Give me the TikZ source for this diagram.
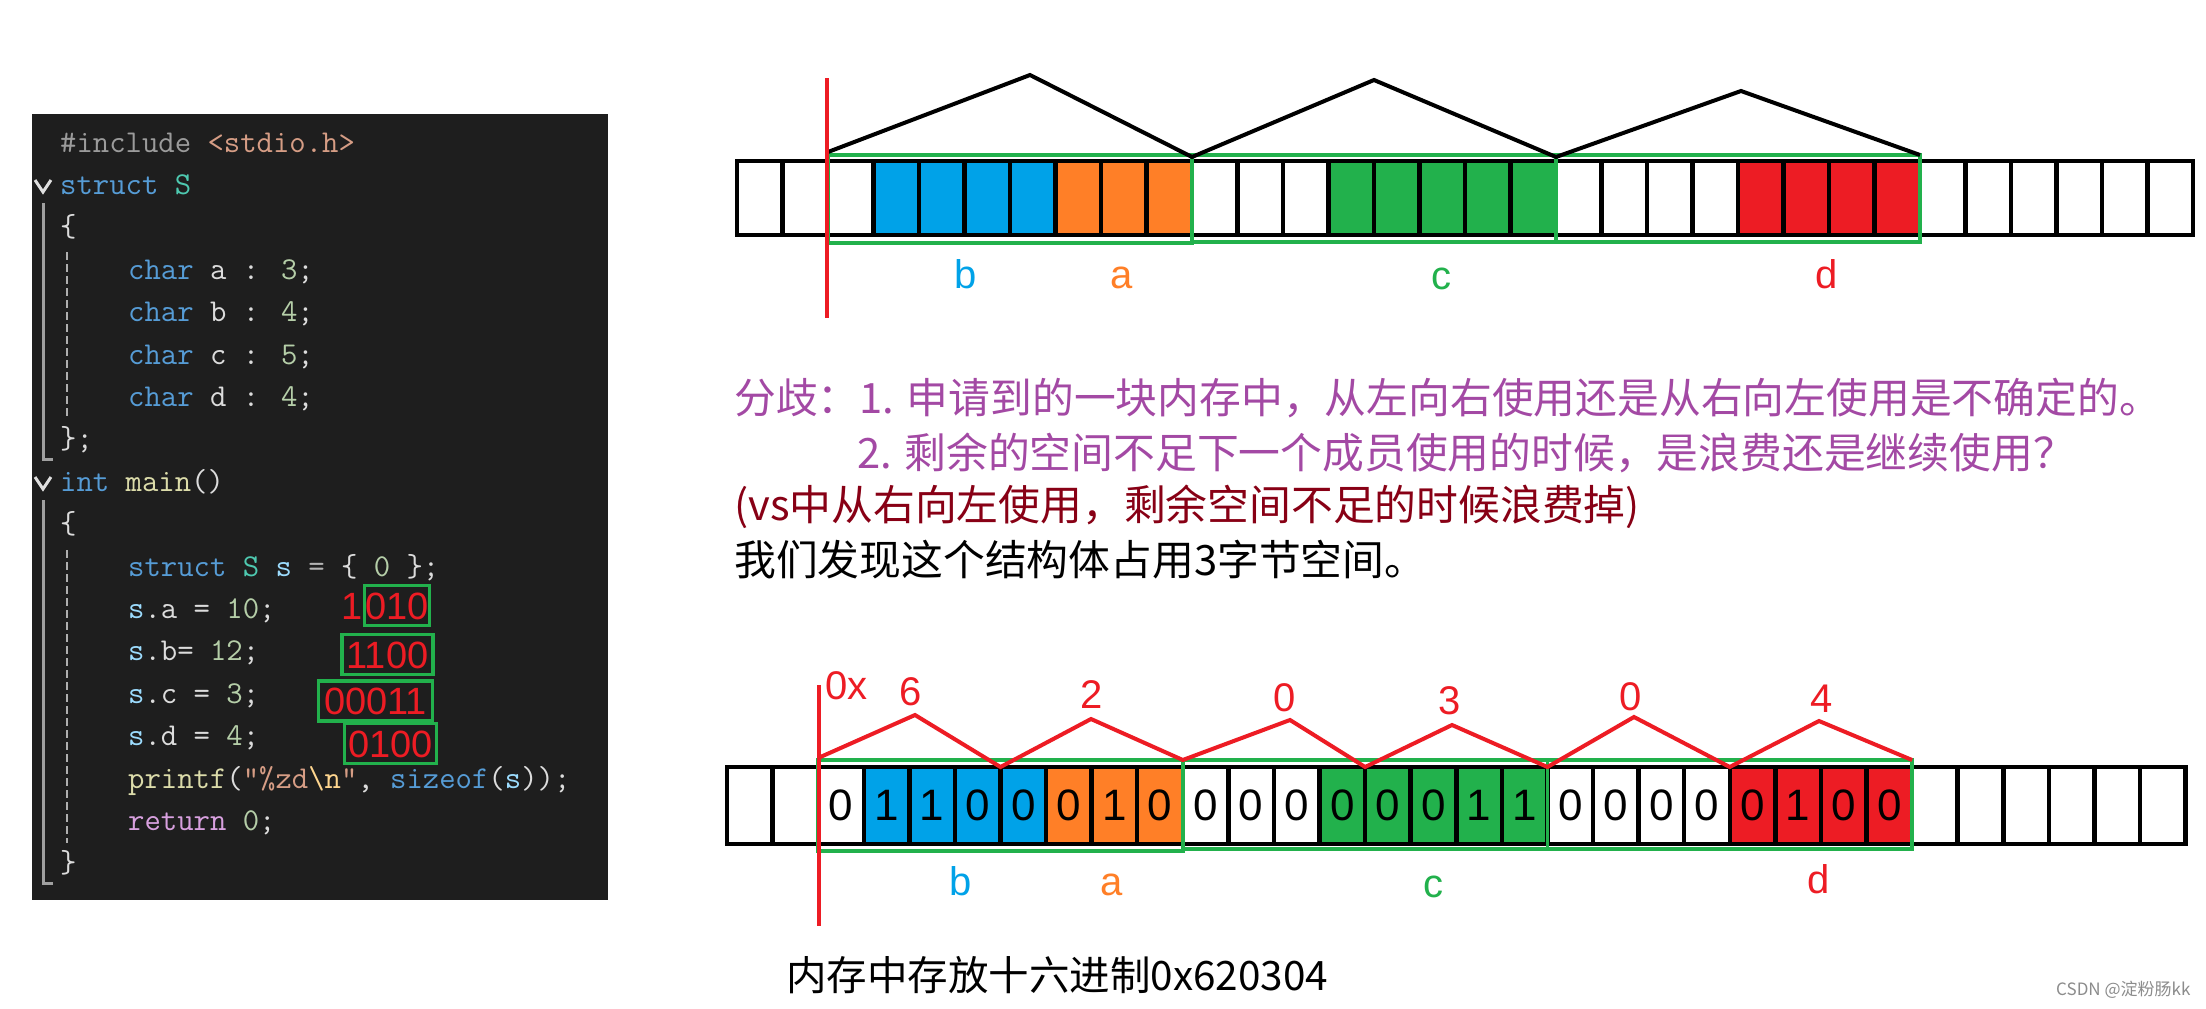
\documentclass[tikz,border=0pt]{standalone}
\usepackage{fontspec}
\setmainfont{Liberation Sans}
\newfontfamily\cjk{Noto Sans CJK SC}
\usetikzlibrary{math,positioning}

% paint colours
\definecolor{pblue}{HTML}{00A2E8}
\definecolor{porange}{HTML}{FF7F27}
\definecolor{pgreen}{HTML}{22B14C}
\definecolor{pred}{HTML}{ED1C24}
\definecolor{ppurple}{HTML}{A349A4}
\definecolor{pdark}{HTML}{880015}
% editor colours
\definecolor{codebg}{HTML}{1E1E1E}
\definecolor{cpu}{HTML}{DCDCDC}
\definecolor{ckw}{HTML}{569CD6}
\definecolor{cty}{HTML}{4EC9B0}
\definecolor{cnu}{HTML}{B5CEA8}
\definecolor{cfn}{HTML}{DCDCAA}
\definecolor{cva}{HTML}{9CDCFE}
\definecolor{cst}{HTML}{D69D85}
\definecolor{cesc}{HTML}{FFD68F}
\definecolor{cpp}{HTML}{9B9B9B}
\definecolor{crt}{HTML}{D8A0DF}
\definecolor{cop}{HTML}{B4B4B4}
\definecolor{cguide}{HTML}{A0A0A0}

\tikzset{
  cell/.style={draw=black, line width=4.5pt, minimum height=74pt, inner sep=0pt, outer sep=0pt,
    font=\fontsize{44}{44}\selectfont},
  gbox/.style={draw=pgreen, line width=3.5pt},
  chev/.style={line width=4pt},
  divide/.style={draw=pred, line width=4pt},
  lbl/.style={anchor=base, inner sep=0pt, font=\fontsize{40}{40}\selectfont},
  hexd/.style={anchor=base, inner sep=0pt, text=pred, font=\fontsize{40}{40}\selectfont},
  code/.style={anchor=base west, inner sep=0pt, text=cpu, font=\ttfamily\fontsize{31.8}{34}\selectfont},
  bin/.style={text=pred, inner ysep=6.5pt, text height=27pt, text depth=0pt,
    font=\fontsize{38}{38}\selectfont},
  note/.style={anchor=west, inner sep=0pt, font=\cjk\fontsize{41.8}{48}\selectfont},
  guide/.style={draw=cguide, line width=3pt},
}

\begin{document}
\begin{tikzpicture}[x=1pt, y=-1pt]
  \fill[white] (0,0) rectangle (2206,1009);
  \useasboundingbox (0,0) rectangle (2206,1009);
  \tikzmath{
    % left edge and cell width of the two bars
    \ta = 737; \tw = 45.5;
    \ma = 727; \mw = 45.58;
  }

  % code panel
  \fill[codebg] (32,114) rectangle (608,900);
  \draw[guide, draw=cpu!90] (35,180) -- (43,192) -- (51,180);
  \draw[guide, draw=cpu!90] (35,477) -- (43,489) -- (51,477);
  \draw[guide] (43,203) -- (43,459) -- (53,459);
  \draw[guide] (43,500) -- (43,883) -- (53,883);
  \draw[guide, draw=cpp!80, line width=2.5pt, dash pattern=on 8pt off 4pt] (67,252) -- (67,417);
  \draw[guide, draw=cpp!80, line width=2.5pt, dash pattern=on 8pt off 4pt] (67,550) -- (67,843);

  \node[code] (l0) at (60,152) {\textcolor{cpp}{\#include} \textcolor{cst}{<stdio.h>}};
  \node[code] (l1) at (60,194.4) {\textcolor{ckw}{struct} \textcolor{cty}{S}};
  \node[code] (l2) at (60,236.8) {\{};
  \node[code] (l3) at (128,279.2) {\textcolor{ckw}{char} a : \textcolor{cnu}{3};};
  \node[code] (l4) at (128,321.6) {\textcolor{ckw}{char} b : \textcolor{cnu}{4};};
  \node[code] (l5) at (128,364) {\textcolor{ckw}{char} c : \textcolor{cnu}{5};};
  \node[code] (l6) at (128,406.4) {\textcolor{ckw}{char} d : \textcolor{cnu}{4};};
  \node[code] (l7) at (60,448.8) {\};};
  \node[code] (l8) at (60,491.2) {\textcolor{ckw}{int} \textcolor{cfn}{main}()};
  \node[code] (l9) at (60,533.6) {\{};
  \node[code] (l10) at (128,576) {\textcolor{ckw}{struct} \textcolor{cty}{S} \textcolor{cva}{s} \textcolor{cop}{=} \{ \textcolor{cnu}{0} \};};
  \node[code] (l11) at (128,618.4) {\textcolor{cva}{s}.a = \textcolor{cnu}{10};};
  \node[code] (l12) at (128,660.8) {\textcolor{cva}{s}.b= \textcolor{cnu}{12};};
  \node[code] (l13) at (128,703.2) {\textcolor{cva}{s}.c = \textcolor{cnu}{3};};
  \node[code] (l14) at (128,745.6) {\textcolor{cva}{s}.d = \textcolor{cnu}{4};};
  \node[code] (l15) at (128,788) {\textcolor{cfn}{printf}(\textcolor{cst}{"\%zd}\textcolor{cesc}{\textbackslash n}\textcolor{cst}{"}, \textcolor{ckw}{sizeof}(\textcolor{cva}{s}));};
  \node[code] (l16) at (128,830.4) {\textcolor{crt}{return} \textcolor{cnu}{0};};
  \node[code] (l17) at (60,872.8) {\}};

  % bit patterns of the assignments
  \node[bin, gbox, inner xsep=1pt] (ba) at (397,605.5) {010};
  \node[bin, inner xsep=0pt, left=0pt of ba] (ba1) {1};
  \node[bin, gbox, inner xsep=4.5pt] (bb) at (387.5,654.5) {1100};
  \node[bin, gbox, inner xsep=5.5pt] (bc) at (375.5,701) {00011};
  \node[bin, gbox, inner xsep=3.5pt] (bd) at (390.5,743.5) {0100};

  % upper bar: layout of the bits
  \foreach \c [count=\i from 0] in {white,white,white,pblue,pblue,pblue,pblue,porange,porange,porange,white,white,white,pgreen,pgreen,pgreen,pgreen,pgreen,white,white,white,white,pred,pred,pred,pred,white,white,white,white,white,white}
    \node[cell, fill=\c, minimum width=\tw pt] (t\i) at ({\ta+\tw*(\i+0.5)},198) {};
  \draw[gbox] ([yshift=6pt]t2.north west) rectangle ([yshift=-8pt]t9.south east);
  \draw[gbox] ([yshift=6pt]t10.north west) rectangle ([yshift=-7pt]t17.south east);
  \draw[gbox] ([yshift=6pt]t18.north west) rectangle ([yshift=-7pt]t25.south east);
  \coordinate (tp1) at (1030,75);
  \coordinate (tp2) at (1374,80);
  \coordinate (tp3) at (1741,91);
  \draw[chev] ([yshift=9pt]t2.north west) -- (tp1) -- ([yshift=4pt]t9.north east) -- (tp2)
    -- ([yshift=4pt]t17.north east) -- (tp3) -- ([yshift=6pt]t25.north east);
  \draw[divide] (827,78) -- (827,318);
  \node[lbl, text=pblue] (tb) at (966,288) {b};
  \node[lbl, text=porange] (ta) at (1122,288) {a};
  \node[lbl, text=pgreen] (tc) at (1441,289) {c};
  \node[lbl, text=pred] (td) at (1827,288) {d};

  % notes
  \node[note, text=ppurple] (n1) at (734,398) {分歧：1. 申请到的一块内存中，从左向右使用还是从右向左使用是不确定的。};
  \node[note, text=ppurple] (n2) at (857,453) {2. 剩余的空间不足下一个成员使用的时候，是浪费还是继续使用？};
  \node[note, text=pdark] (n3) at (734,507) {(vs中从右向左使用，剩余空间不足的时候浪费掉)};
  \node[note] (n4) at (734,560) {我们发现这个结构体占用3字节空间。};

  % lower bar: stored bits
  \foreach \c/\d [count=\i from 0] in {white/{},white/{},white/0,pblue/1,pblue/1,pblue/0,pblue/0,porange/0,porange/1,porange/0,white/0,white/0,white/0,pgreen/0,pgreen/0,pgreen/0,pgreen/1,pgreen/1,white/0,white/0,white/0,white/0,pred/0,pred/1,pred/0,pred/0,white/{},white/{},white/{},white/{},white/{},white/{}}
    \node[cell, fill=\c, minimum width=\mw pt, minimum height=77pt] (m\i) at ({\ma+\mw*(\i+0.5)},805.5) {\d};
  \draw[gbox] ([yshift=7pt]m2.north west) rectangle ([yshift=-7pt]m9.south east);
  \draw[gbox] ([yshift=7pt]m10.north west) rectangle ([yshift=-5pt]m17.south east);
  \draw[gbox] ([yshift=7pt]m18.north west) rectangle ([yshift=-5pt]m25.south east);
  \coordinate (hp1) at (915,715);
  \coordinate (hp2) at (1091,719);
  \coordinate (hp3) at (1290,720);
  \coordinate (hp4) at (1452,725);
  \coordinate (hp5) at (1634,717);
  \coordinate (hp6) at (1819,721);
  \draw[chev, pred] ([yshift=9pt]m2.north west) -- (hp1) -- (m5.north east) -- (hp2)
    -- ([yshift=7pt]m9.north east) -- (hp3) -- (m13.north east) -- (hp4)
    -- (m17.north east) -- (hp5) -- (m21.north east) -- (hp6) -- ([yshift=7pt]m25.north east);
  \draw[divide] (819,685) -- (819,926);
  \node[hexd, anchor=base west] (h0) at (825,699) {0x};
  \node[hexd] (h1) at (911,705) {6};
  \node[hexd] (h2) at (1092,708) {2};
  \node[hexd] (h3) at (1285,711) {0};
  \node[hexd] (h4) at (1450,714) {3};
  \node[hexd] (h5) at (1631,710) {0};
  \node[hexd] (h6) at (1822,712) {4};
  \node[lbl, text=pblue] (mb) at (961,895) {b};
  \node[lbl, text=porange] (ma) at (1112,895) {a};
  \node[lbl, text=pgreen] (mc) at (1433,897) {c};
  \node[lbl, text=pred] (md) at (1819,893) {d};

  \node[note, font=\cjk\fontsize{40.5}{48}\selectfont] (n5) at (786,975) {内存中存放十六进制0x620304};
  \node[anchor=west, inner sep=0pt, text=black!45, font=\cjk\fontsize{17}{17}\selectfont] (wm) at (2056,990) {CSDN @淀粉肠kk};
\end{tikzpicture}
\end{document}
